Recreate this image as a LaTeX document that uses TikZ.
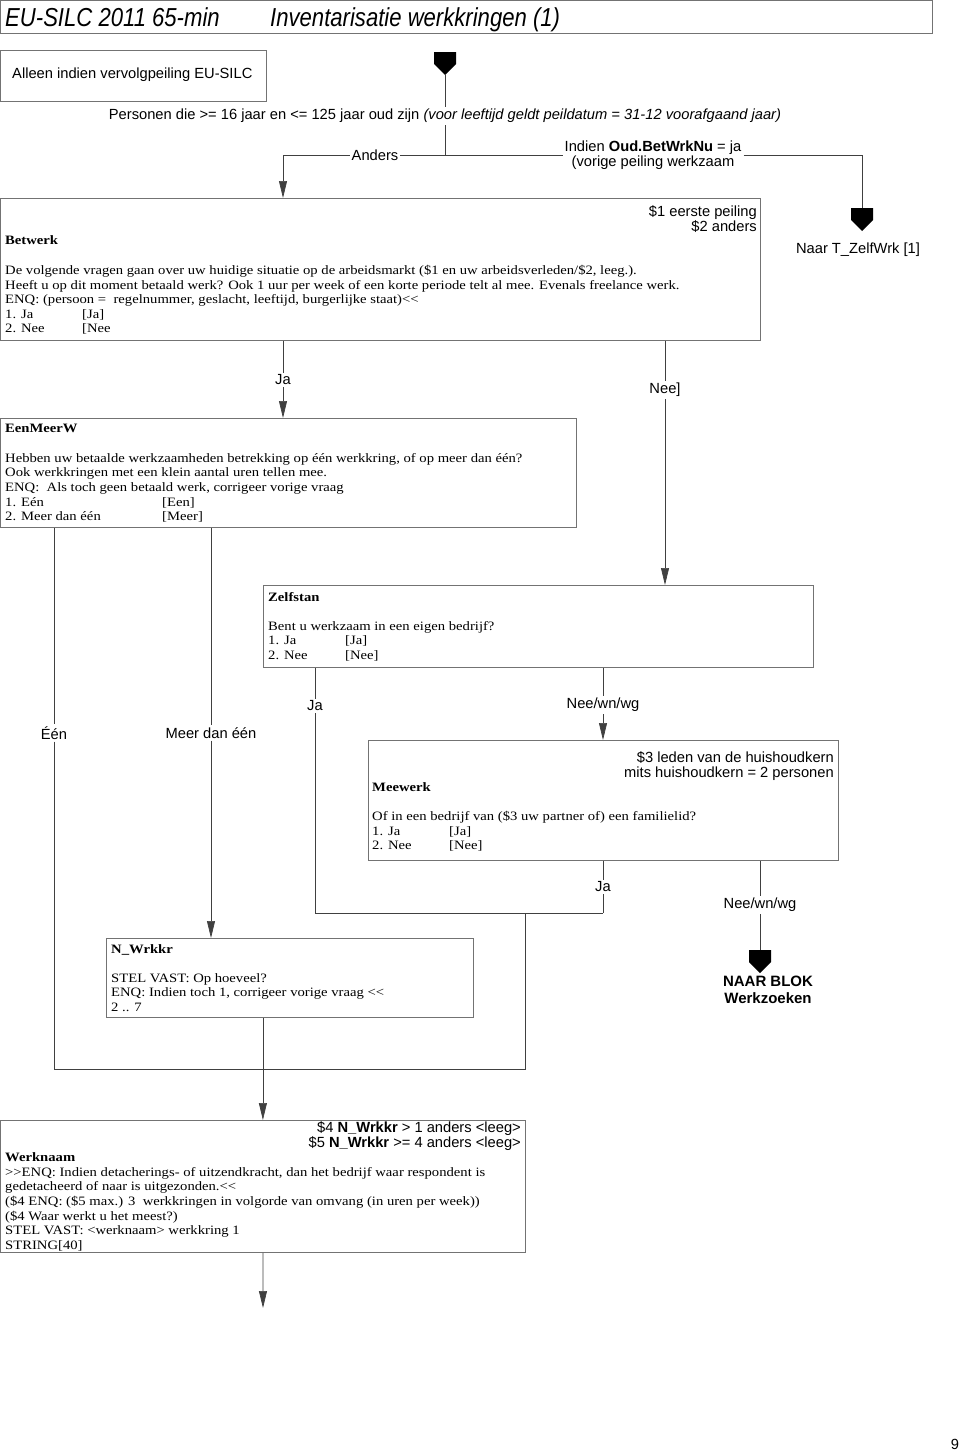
\documentclass[tikz,border=0pt]{standalone}
\usepackage{fontspec}
\setmainfont{Liberation Serif}
\setsansfont{Liberation Sans}
\newfontfamily\bodyserif{Liberation Serif}[FakeStretch=1.145]
\newfontfamily\titlesans{Liberation Sans}[FakeStretch=0.85]
\usetikzlibrary{arrows.meta}

\newcommand\bodyfont{\bodyserif\fontsize{12.8}{14.6}\selectfont}
\newcommand\labelfont{\sffamily\fontsize{14.7}{15.2}\selectfont}
% off-page marker, top middle at (#1,#2)
\newcommand\gotomark[2]{\fill (#1-11,#2) -- (#1+11,#2) -- (#1+11,#2+12) -- (#1,#2+23) -- (#1-11,#2+12) -- cycle;}
\newcommand\opt[2]{\makebox[77pt][l]{#1}#2}

\tikzset{
  qbox/.style={draw=black!55, line width=0.8pt, anchor=north west, inner sep=0pt},
  qtext/.style={anchor=north west, align=left, inner sep=0pt, font=\bodyfont},
  qname/.style={anchor=north west, inner sep=0pt, font=\bodyfont\bfseries},
  cond/.style={anchor=north east, align=right, inner sep=0pt, font=\labelfont},
  lbl/.style={fill=white, inner sep=2pt, font=\labelfont},
  flow/.style={draw=black!75, line width=0.7pt},
  flowarr/.style={flow, -{Triangle[width=8pt,length=17pt]}},
}

\begin{document}
\begin{tikzpicture}[x=1pt,y=-1pt]
  \useasboundingbox (0,0) rectangle (960,1454);

  % header
  \node[qbox, minimum width=932pt, minimum height=33pt] (title) at (0,0) {};
  \node[anchor=base west, inner sep=0pt, font=\titlesans\itshape\fontsize{26}{28}\selectfont] (titleL) at (5,26) {EU-SILC 2011 65-min};
  \node[anchor=base west, inner sep=0pt, font=\titlesans\itshape\fontsize{26}{28}\selectfont] (titleR) at (270,26) {Inventarisatie werkkringen (1)};

  \node[qbox, minimum width=266pt, minimum height=51pt] (alleen) at (0,50) {};
  \node[anchor=west, inner sep=0pt, font=\labelfont] (alleenTxt) at (12,75) {Alleen indien vervolgpeiling EU-SILC};

  % entry
  \gotomark{445}{52}
  \coordinate (start) at (445,75);
  \node[lbl] (persons) at (445,116) {Personen die >= 16 jaar en <= 125 jaar oud zijn \textit{(voor leeftijd geldt peildatum = 31-12 voorafgaand jaar)}};
  \coordinate (split) at (445,155);
  \node[lbl] (anders) at (375,155) {Anders};
  \node[lbl, align=center] (indien) at (653,155) {Indien \textbf{Oud.BetWrkNu} = ja\\(vorige peiling werkzaam};
  \coordinate (andersL) at (283,155);
  \coordinate (indienR) at (862,155);
  \gotomark{862}{208}
  \coordinate (naarTop) at (862,208);
  \node[font=\labelfont] (naar) at (858,250) {Naar T\_ZelfWrk [1]};

  % Betwerk
  \node[qbox, minimum width=760pt, minimum height=142pt] (betwerk) at (0,198) {};
  \node[cond] (betwerkCond) at (757,205) {\$1 eerste peiling\\\$2 anders};
  \node[qname] (betwerkName) at (5,235) {Betwerk};
  \node[qtext] (betwerkTxt) at (5,265) {De volgende vragen gaan over uw huidige situatie op de arbeidsmarkt (\$1 en uw arbeidsverleden/\$2, leeg.).\\
    Heeft u op dit moment betaald werk? Ook 1 uur per week of een korte periode telt al mee. Evenals freelance werk.\\
    ENQ: (persoon =\ \ regelnummer, geslacht, leeftijd, burgerlijke staat)<\kern0pt<\\
    \opt{1. Ja}{[Ja]}\\
    \opt{2. Nee}{[Nee}};

  % EenMeerW
  \node[qbox, minimum width=576pt, minimum height=109pt] (eenmeerw) at (0,418) {};
  \node[qname] (eenmeerwName) at (5,424) {EenMeerW};
  \node[qtext] (eenmeerwTxt) at (5,453) {Hebben uw betaalde werkzaamheden betrekking op één werkkring, of op meer dan één?\\
    Ook werkkringen met een klein aantal uren tellen mee.\\
    ENQ:\ \ Als toch geen betaald werk, corrigeer vorige vraag\\
    \makebox[157pt][l]{1. Eén}[Een]\\
    \makebox[157pt][l]{2. Meer dan één}[Meer]};

  % Zelfstan
  \node[qbox, minimum width=550pt, minimum height=82pt] (zelfstan) at (263,585) {};
  \node[qname] (zelfstanName) at (268,592) {Zelfstan};
  \node[qtext] (zelfstanTxt) at (268,621) {Bent u werkzaam in een eigen bedrijf?\\
    \opt{1. Ja}{[Ja]}\\
    \opt{2. Nee}{[Nee]}};

  % Meewerk
  \node[qbox, minimum width=470pt, minimum height=120pt] (meewerk) at (368,740) {};
  \node[cond] (meewerkCond) at (834,751) {\$3 leden van de huishoudkern\\mits huishoudkern = 2 personen};
  \node[qname] (meewerkName) at (372,782) {Meewerk};
  \node[qtext] (meewerkTxt) at (372,811) {Of in een bedrijf van (\$3 uw partner of) een familielid?\\
    \opt{1. Ja}{[Ja]}\\
    \opt{2. Nee}{[Nee]}};

  % N_Wrkkr
  \node[qbox, minimum width=367pt, minimum height=79pt] (nwrkkr) at (106,938) {};
  \node[qname] (nwrkkrName) at (111,944) {N\_Wrkkr};
  \node[qtext] (nwrkkrTxt) at (111,973) {STEL VAST: Op hoeveel?\\
    ENQ: Indien toch 1, corrigeer vorige vraag <\kern0pt<\\
    2 .. 7};

  % Werknaam
  \node[qbox, minimum width=525pt, minimum height=132pt] (werknaam) at (0,1120) {};
  \node[cond] (werknaamCond) at (521,1121) {\$4 \textbf{N\_Wrkkr} > 1 anders <leeg>\\\$5 \textbf{N\_Wrkkr} >= 4 anders <leeg>};
  \node[qname] (werknaamName) at (5,1152) {Werknaam};
  \node[qtext] (werknaamTxt) at (5,1167) {>\kern0pt>ENQ: Indien detacherings- of uitzendkracht, dan het bedrijf waar respondent is\\
    gedetacheerd of naar is uitgezonden.<\kern0pt<\\
    (\$4 ENQ: (\$5 max.) 3\ \ werkkringen in volgorde van omvang (in uren per week))\\
    (\$4 Waar werkt u het meest?)\\
    STEL VAST: <werknaam> werkkring 1\\
    STRING[40]};

  % entry flow
  \draw[flow] (start) -- (persons);
  \draw[flow] (persons) -- (split);
  \draw[flow] (split) -- (anders);
  \draw[flowarr] (anders) -- (andersL) -- (andersL |- betwerk.north);
  \draw[flow] (split) -- (indien);
  \draw[flow] (indien) -- (indienR) -- (naarTop);

  % from Betwerk
  \node[lbl] (ja1) at (283,380) {Ja};
  \draw[flow] (ja1 |- betwerk.south) -- (ja1);
  \draw[flowarr] (ja1) -- (ja1 |- eenmeerw.north);
  \node[lbl] (nee1) at (665,390) {Nee]};
  \draw[flow] (nee1 |- betwerk.south) -- (nee1);
  \draw[flowarr] (nee1) -- (nee1 |- zelfstan.north);

  % from EenMeerW
  \coordinate (joinL) at (54,1069);
  \coordinate (joinR) at (525,1069);
  \coordinate (loopR) at (525,913);
  \node[lbl] (een) at (54,733) {Één};
  \draw[flow] (een |- eenmeerw.south) -- (een);
  \draw[flow] (een) -- (joinL) -- (joinR) -- (loopR);
  \node[lbl] (meer) at (211,733) {Meer dan één};
  \draw[flow] (meer |- eenmeerw.south) -- (meer);
  \draw[flowarr] (meer) -- (meer |- nwrkkr.north);

  % from Zelfstan
  \coordinate (loopL) at (315,913);
  \coordinate (loopM) at (603,913);
  \node[lbl] (ja2) at (315,706) {Ja};
  \draw[flow] (ja2 |- zelfstan.south) -- (ja2);
  \draw[flow] (ja2) -- (loopL) -- (loopM);
  \node[lbl] (nee2) at (603,705) {Nee/wn/wg};
  \draw[flow] (nee2 |- zelfstan.south) -- (nee2);
  \draw[flowarr] (nee2) -- (nee2 |- meewerk.north);

  % from Meewerk
  \node[lbl] (ja3) at (603,887) {Ja};
  \draw[flow] (ja3 |- meewerk.south) -- (ja3);
  \draw[flow] (ja3) -- (loopM);
  \gotomark{760}{950}
  \coordinate (blokTop) at (760,950);
  \node[lbl] (nee3) at (760,905) {Nee/wn/wg};
  \draw[flow] (nee3 |- meewerk.south) -- (nee3);
  \draw[flow] (nee3) -- (blokTop);
  \node[align=center, font=\sffamily\bfseries\fontsize{15}{17}\selectfont] (blok) at (768,990) {NAAR BLOK\\Werkzoeken};

  % to Werknaam
  \draw[flowarr] (werknaam.north |- nwrkkr.south) -- (werknaam.north);
  \coordinate (endpt) at (263,1308);
  \draw[flowarr] (werknaam.south) -- (endpt);

  \node[font=\labelfont] (pagenr) at (955,1444) {9};
\end{tikzpicture}
\end{document}
